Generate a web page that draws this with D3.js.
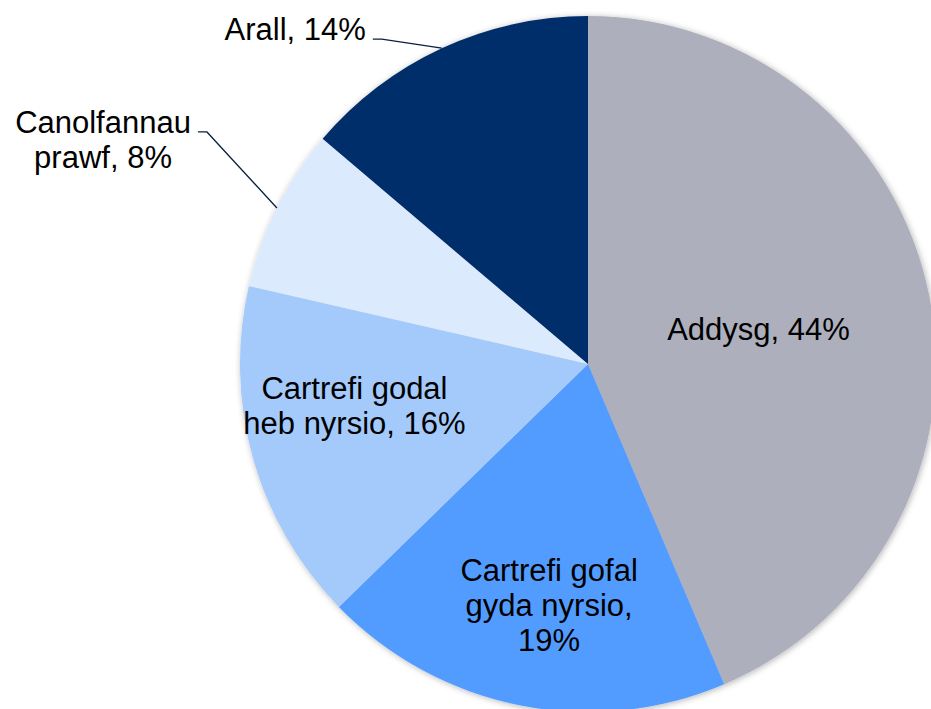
<!DOCTYPE html>
<html>
<head>
<meta charset="utf-8">
<script src="https://cdn.jsdelivr.net/npm/d3@7"></script>
<style>
  body { margin: 0; background: #fff; }
  svg { display: block; }
  text { font-family: "Liberation Sans", Arial, sans-serif; font-size: 31px; fill: #000; }
</style>
</head>
<body>
<svg id="chart" width="931" height="709"></svg>
<script>
const categories = ["Addysg", "Cartrefi gofal gyda nyrsio", "Cartrefi godal heb nyrsio", "Canolfannau prawf", "Arall"];
const values = [43.6, 19.1, 15.9, 7.6, 13.8];
const labelLines = [
  ["Addysg, 44%"],
  ["Cartrefi gofal", "gyda nyrsio,", "19%"],
  ["Cartrefi godal", "heb nyrsio, 16%"],
  ["Canolfannau", "prawf, 8%"],
  ["Arall, 14%"]
];
const colors = ["#ADAFBD", "#539CFF", "#A4CAFC", "#DCEAFD", "#002D6A"];

const width = 931, height = 709;
const cx = 588, cy = 364, R = 348;
const lineH = 35;

// label placement: inside labels sit on a ring, outside ones get a leader
const labelLayout = [
  { inside: true, k: 0.5, dx: 0, dy: 0 },
  { inside: true, k: 0.7, dx: 9, dy: 2 },
  { inside: true, k: 0.7, dx: 1, dy: -24 },
  { inside: false, ex: -70, ey: -76 },
  { inside: false, ex: -60, ey: -9 }
];

const svg = d3.select("#chart");

const defs = svg.append("defs");
const f = defs.append("filter").attr("id", "shadow")
  .attr("x", "-10%").attr("y", "-10%").attr("width", "120%").attr("height", "120%");
f.append("feDropShadow").attr("dx", 1).attr("dy", 1)
  .attr("stdDeviation", 3).attr("flood-color", "#000").attr("flood-opacity", 0.3);

const pie = d3.pie().sort(null).value(d => d);
const arcs = pie(values);
const arc = d3.arc().innerRadius(0).outerRadius(R);

const g = svg.append("g").attr("transform", `translate(${cx},${cy})`);

g.append("g").attr("filter", "url(#shadow)")
  .selectAll("path")
  .data(arcs)
  .enter().append("path")
  .attr("d", arc)
  .attr("fill", (d, i) => colors[i]);

const labels = g.append("g");

arcs.forEach((d, i) => {
  const lay = labelLayout[i];
  const mid = (d.startAngle + d.endAngle) / 2;
  const lines = labelLines[i];
  if (lay.inside) {
    const r = R * lay.k;
    const x = Math.sin(mid) * r + lay.dx;
    const y = -Math.cos(mid) * r + lay.dy;
    const y0 = y - (lines.length - 1) * lineH / 2 + 11;
    const t = labels.append("text").attr("text-anchor", "middle");
    lines.forEach((s, j) => {
      t.append("tspan").attr("x", x).attr("y", y0 + j * lineH).text(s);
    });
  } else {
    const px = Math.sin(mid) * R, py = -Math.cos(mid) * R;
    const kx = px + lay.ex, ky = py + lay.ey;
    labels.append("polyline")
      .attr("points", [[px, py], [kx, ky], [kx - 9, ky]].map(p => p.join(",")).join(" "))
      .attr("fill", "none")
      .attr("stroke", "#0B1F40")
      .attr("stroke-width", 1.3);
    const t = labels.append("text").attr("text-anchor", "middle");
    const spans = lines.map((s, j) => t.append("tspan").attr("y", ky + 1 + j * lineH).text(s));
    const w = d3.max(spans, s => s.node().getComputedTextLength());
    const tx = kx - 9 - 7 - w / 2;
    spans.forEach(s => s.attr("x", tx));
  }
});
</script>
</body>
</html>
